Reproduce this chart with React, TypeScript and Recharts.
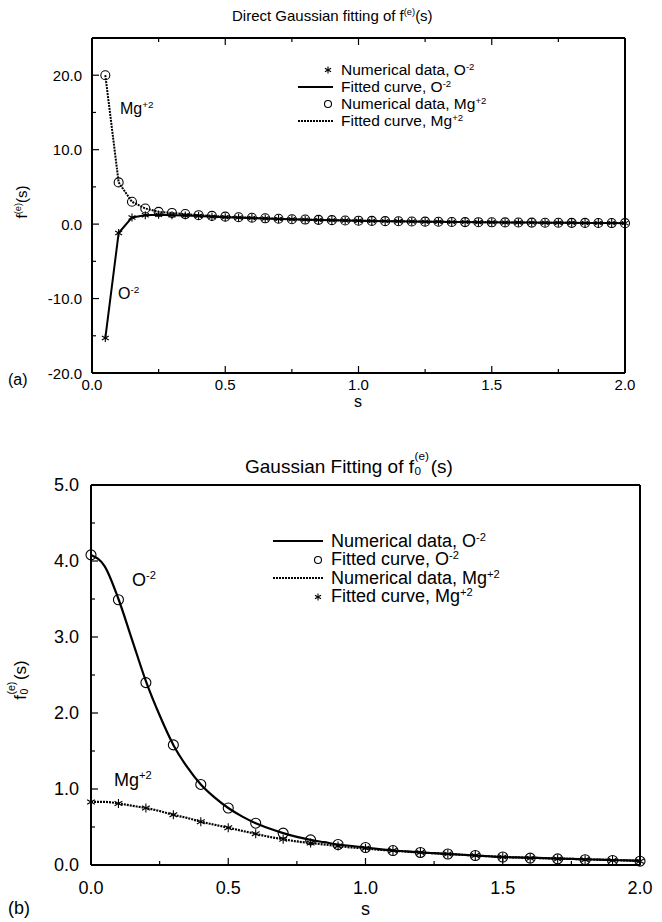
import React from 'react';
import { LineChart, Line, XAxis, YAxis, Legend } from 'recharts';

const FONT = '"Liberation Sans", Arial, Helvetica, sans-serif';

// (a) direct fit, s = 0.05 .. 2.0
const sTop = [
  0.05, 0.1, 0.15, 0.2, 0.25, 0.3, 0.35, 0.4, 0.45, 0.5,
  0.55, 0.6, 0.65, 0.7, 0.75, 0.8, 0.85, 0.9, 0.95, 1.0,
  1.05, 1.1, 1.15, 1.2, 1.25, 1.3, 1.35, 1.4, 1.45, 1.5,
  1.55, 1.6, 1.65, 1.7, 1.75, 1.8, 1.85, 1.9, 1.95, 2.0,
];
const o2Top = [
  -15.3, -1.2, 0.9, 1.2, 1.25, 1.2, 1.15, 1.08, 1.0, 0.93,
  0.87, 0.81, 0.75, 0.7, 0.65, 0.6, 0.56, 0.52, 0.48, 0.45,
  0.42, 0.4, 0.38, 0.35, 0.33, 0.31, 0.29, 0.27, 0.26, 0.24,
  0.23, 0.21, 0.2, 0.19, 0.18, 0.17, 0.16, 0.15, 0.14, 0.13,
];
const mgTop = [
  20.0, 5.6, 3.0, 2.1, 1.65, 1.5, 1.35, 1.2, 1.1, 1.0,
  0.92, 0.85, 0.78, 0.72, 0.66, 0.61, 0.57, 0.53, 0.49, 0.46,
  0.43, 0.4, 0.38, 0.35, 0.33, 0.31, 0.29, 0.27, 0.26, 0.24,
  0.23, 0.21, 0.2, 0.19, 0.18, 0.17, 0.16, 0.15, 0.14, 0.13,
];

// (b) f0 fit: numerical curves on a 0.05 grid, fitted points every 0.1
const sLine = [
  0, 0.05, 0.1, 0.15, 0.2, 0.25, 0.3, 0.35, 0.4, 0.45, 0.5,
  0.55, 0.6, 0.65, 0.7, 0.75, 0.8, 0.85, 0.9, 0.95, 1.0,
  1.05, 1.1, 1.15, 1.2, 1.25, 1.3, 1.35, 1.4, 1.45, 1.5,
  1.55, 1.6, 1.65, 1.7, 1.75, 1.8, 1.85, 1.9, 1.95, 2.0,
];
const o2Line = [
  4.08, 3.93, 3.5, 2.96, 2.42, 1.97, 1.58, 1.29, 1.06, 0.89, 0.75,
  0.64, 0.55, 0.48, 0.42, 0.37, 0.33, 0.3, 0.27, 0.25, 0.23,
  0.21, 0.19, 0.18, 0.165, 0.155, 0.145, 0.135, 0.125, 0.115, 0.105,
  0.1, 0.095, 0.09, 0.085, 0.08, 0.075, 0.07, 0.065, 0.06, 0.055,
];
const mgLine = [
  0.83, 0.83, 0.81, 0.78, 0.75, 0.71, 0.66, 0.62, 0.57, 0.53, 0.49,
  0.45, 0.41, 0.37, 0.34, 0.31, 0.29, 0.27, 0.25, 0.23, 0.22,
  0.2, 0.19, 0.175, 0.165, 0.155, 0.145, 0.135, 0.125, 0.115, 0.105,
  0.1, 0.095, 0.09, 0.085, 0.08, 0.075, 0.07, 0.065, 0.06, 0.055,
];
const sFit = [0, 0.1, 0.2, 0.3, 0.4, 0.5, 0.6, 0.7, 0.8, 0.9, 1.0, 1.1, 1.2, 1.3, 1.4, 1.5, 1.6, 1.7, 1.8, 1.9, 2.0];
const o2Fit = [4.08, 3.49, 2.4, 1.58, 1.06, 0.75, 0.55, 0.42, 0.33, 0.27, 0.23, 0.19, 0.165, 0.145, 0.125, 0.105, 0.09, 0.08, 0.07, 0.06, 0.05];
const mgFit = [0.83, 0.81, 0.75, 0.66, 0.57, 0.49, 0.41, 0.34, 0.29, 0.25, 0.22, 0.19, 0.165, 0.145, 0.125, 0.105, 0.09, 0.08, 0.07, 0.06, 0.05];

const xTicks = [0, 0.25, 0.5, 0.75, 1, 1.25, 1.5, 1.75, 2];
const yTicksTop = [-20, -15, -10, -5, 0, 5, 10, 15, 20];
const yTicksBot = [0, 0.5, 1, 1.5, 2, 2.5, 3, 3.5, 4, 4.5, 5];

const topLegend = [
  { sym: 'star', text: 'Numerical data, O', sup: '-2' },
  { sym: 'solid', text: 'Fitted curve, O', sup: '-2' },
  { sym: 'circle', text: 'Numerical data, Mg', sup: '+2' },
  { sym: 'dotted', text: 'Fitted curve, Mg', sup: '+2' },
];
const botLegend = [
  { sym: 'solid', text: 'Numerical data, O', sup: '-2' },
  { sym: 'circle', text: 'Fitted curve, O', sup: '-2' },
  { sym: 'dotted', text: 'Numerical data, Mg', sup: '+2' },
  { sym: 'star', text: 'Fitted curve, Mg', sup: '+2' },
];

const topData = sTop.map((s, i) => ({ s, o2: o2Top[i], mg: mgTop[i] }));
const lineData = sLine.map((s, i) => ({ s, o2: o2Line[i], mg: mgLine[i] }));
const fitData = sFit.map((s, i) => ({ s, o2: o2Fit[i], mg: mgFit[i] }));

const isMul = (v: number, step: number) => Math.abs(v / step - Math.round(v / step)) < 1e-6;

function Star({ cx, cy, r = 4 }: { cx: number; cy: number; r?: number }) {
  const a = r * 0.866;
  const b = r * 0.5;
  return (
    <g stroke="#000" strokeWidth={1.1}>
      <line x1={cx} y1={cy - r} x2={cx} y2={cy + r} />
      <line x1={cx - a} y1={cy - b} x2={cx + a} y2={cy + b} />
      <line x1={cx - a} y1={cy + b} x2={cx + a} y2={cy - b} />
    </g>
  );
}

const starDot = (r: number) => (p: any) =>
  p.cx == null ? <g key={p.index} /> : <Star key={p.index} cx={p.cx} cy={p.cy} r={r} />;
const circleDot = (r: number) => (p: any) =>
  p.cx == null ? <g key={p.index} /> : (
    <circle key={p.index} cx={p.cx} cy={p.cy} r={r} fill="none" stroke="#000" strokeWidth={1.1} />
  );

function bottomTick(fs: number, dy: number) {
  return (p: any) => {
    const v = p.payload.value;
    const major = isMul(v, 0.5);
    return (
      <g>
        <line x1={p.x} x2={p.x} y1={p.y} y2={p.y - (major ? 7 : 4)} stroke="#000" strokeWidth={1.2} />
        {major && (
          <text x={p.x} y={p.y + dy} textAnchor="middle" dominantBaseline="central" fontSize={fs} fontFamily={FONT} fill="#000">
            {v.toFixed(1)}
          </text>
        )}
      </g>
    );
  };
}
const topTick = (p: any) => {
  const major = isMul(p.payload.value, 0.5);
  return <line x1={p.x} x2={p.x} y1={p.y} y2={p.y + (major ? 7 : 4)} stroke="#000" strokeWidth={1.2} />;
};
function leftTick(fs: number, step: number, dx: number) {
  return (p: any) => {
    const v = p.payload.value;
    const major = isMul(v, step);
    return (
      <g>
        <line x1={p.x} x2={p.x + (major ? 7 : 4)} y1={p.y} y2={p.y} stroke="#000" strokeWidth={1.2} />
        {major && (
          <text x={p.x - dx} y={p.y} textAnchor="end" dominantBaseline="central" fontSize={fs} fontFamily={FONT} fill="#000">
            {v.toFixed(1)}
          </text>
        )}
      </g>
    );
  };
}
function rightTick(step: number) {
  return (p: any) => {
    const major = isMul(p.payload.value, step);
    return <line x1={p.x} x2={p.x - (major ? 7 : 4)} y1={p.y} y2={p.y} stroke="#000" strokeWidth={1.2} />;
  };
}

function LegendSymbol({ sym, w }: { sym: string; w: number }) {
  const h = 14;
  const end = w - 2;
  return (
    <svg width={w} height={h} style={{ flex: 'none' }}>
      {sym === 'solid' && <line x1={0} x2={w} y1={h / 2} y2={h / 2} stroke="#000" strokeWidth={2} />}
      {sym === 'dotted' && <line x1={0} x2={w} y1={h / 2} y2={h / 2} stroke="#000" strokeWidth={2} strokeDasharray="2 1" />}
      {sym === 'circle' && <circle cx={end - 3} cy={h / 2} r={3.5} fill="none" stroke="#000" strokeWidth={1.1} />}
      {sym === 'star' && <Star cx={end - 3} cy={h / 2} r={3.5} />}
    </svg>
  );
}

function makeLegend(entries: typeof topLegend, fs: number, rowH: number, symW: number) {
  return () => (
    <div style={{ fontFamily: FONT, fontSize: fs, color: '#000' }}>
      {entries.map((e) => (
        <div key={e.text + e.sup} style={{ display: 'flex', alignItems: 'center', height: rowH, whiteSpace: 'nowrap' }}>
          <LegendSymbol sym={e.sym} w={symW} />
          <span style={{ marginLeft: 8 }}>
            {e.text}
            <sup style={{ fontSize: '0.62em', verticalAlign: '0.55em' }}>{e.sup}</sup>
          </span>
        </div>
      ))}
    </div>
  );
}

const abs = (left: number, top: number, fs: number, extra: React.CSSProperties = {}): React.CSSProperties => ({
  position: 'absolute',
  left,
  top,
  fontSize: fs,
  fontFamily: FONT,
  color: '#000',
  whiteSpace: 'nowrap',
  lineHeight: 1,
  ...extra,
});
const supStyle: React.CSSProperties = { fontSize: '0.62em', verticalAlign: '0.6em' };

// subscript 0 and superscript (e) stacked after the f
function SubSup({ sub, sup }: { sub: string; sup: string }) {
  return (
    <span style={{ display: 'inline-block', position: 'relative', width: '0.85em', height: '1em', marginLeft: '0.03em' }}>
      <span style={{ position: 'absolute', left: 0, top: '-0.3em', fontSize: '0.62em', lineHeight: 1 }}>{sup}</span>
      <span style={{ position: 'absolute', left: 0, top: '0.92em', fontSize: '0.62em', lineHeight: 1 }}>{sub}</span>
    </span>
  );
}

export default function App() {
  return (
    <div style={{ position: 'absolute', left: 0, top: 0, width: 662, height: 922, background: '#fff', overflow: 'hidden' }}>
      {/* (a) */}
      <div style={abs(232, 8, 15)}>
        Direct Gaussian fitting of f<sup style={supStyle}>(e)</sup>(s)
      </div>
      <div style={{ position: 'absolute', left: 0, top: 0 }}>
        <LineChart width={662} height={410} data={topData} margin={{ top: 0, right: 0, bottom: 0, left: 0 }}>
          <XAxis xAxisId="b" dataKey="s" type="number" domain={[0, 2]} ticks={xTicks} interval={0} height={37}
            tickSize={0} tickMargin={0} tickLine={false} axisLine={{ stroke: '#000', strokeWidth: 2 }} tick={bottomTick(15, 11)} />
          <XAxis xAxisId="t" orientation="top" dataKey="s" type="number" domain={[0, 2]} ticks={xTicks} interval={0} height={38}
            tickSize={0} tickMargin={0} tickLine={false} axisLine={{ stroke: '#000', strokeWidth: 2 }} tick={topTick} />
          <YAxis yAxisId="l" type="number" domain={[-20, 25]} ticks={yTicksTop} interval={0} width={92} allowDataOverflow
            tickSize={0} tickMargin={0} tickLine={false} axisLine={{ stroke: '#000', strokeWidth: 2 }} tick={leftTick(15, 10, 10)} />
          <YAxis yAxisId="r" orientation="right" type="number" domain={[-20, 25]} ticks={yTicksTop} interval={0} width={37}
            tickSize={0} tickMargin={0} tickLine={false} axisLine={{ stroke: '#000', strokeWidth: 2 }} tick={rightTick(10)} />
          <Legend layout="vertical" align="center" verticalAlign="middle"
            wrapperStyle={{ left: 298, top: 62, width: 300 }} content={makeLegend(topLegend, 15.5, 16.8, 35)} />
          <Line xAxisId="b" yAxisId="l" dataKey="o2" type="linear" stroke="#000" strokeWidth={2} dot={false} isAnimationActive={false} />
          <Line xAxisId="b" yAxisId="l" dataKey="mg" type="linear" stroke="#000" strokeWidth={2} strokeDasharray="2 1" dot={false} isAnimationActive={false} />
          <Line xAxisId="b" yAxisId="l" dataKey="o2" stroke="none" dot={starDot(4)} isAnimationActive={false} />
          <Line xAxisId="b" yAxisId="l" dataKey="mg" stroke="none" dot={circleDot(4.5)} isAnimationActive={false} />
        </LineChart>
      </div>
      <div style={abs(120, 100, 16)}>Mg<sup style={supStyle}>+2</sup></div>
      <div style={abs(118, 285, 16)}>O<sup style={supStyle}>-2</sup></div>
      <div style={abs(8, 372, 16)}>(a)</div>
      <div style={abs(0, 394, 16, { width: 716, textAlign: 'center' })}>s</div>
      <div style={abs(21, 202, 15, { transform: 'translate(-50%, -50%) rotate(-90deg)' })}>
        f<sup style={supStyle}>(e)</sup>(s)
      </div>

      {/* (b) */}
      <div style={abs(245, 454, 19)}>
        Gaussian Fitting of f<SubSup sub="0" sup="(e)" />(s)
      </div>
      <div style={{ position: 'absolute', left: 0, top: 440 }}>
        <LineChart width={662} height={482} margin={{ top: 0, right: 0, bottom: 0, left: 0 }}>
          <XAxis xAxisId="b" dataKey="s" type="number" domain={[0, 2]} ticks={xTicks} interval={0} height={57}
            tickSize={0} tickMargin={0} tickLine={false} axisLine={{ stroke: '#000', strokeWidth: 2 }} tick={bottomTick(18, 23)} />
          <XAxis xAxisId="t" orientation="top" dataKey="s" type="number" domain={[0, 2]} ticks={xTicks} interval={0} height={45}
            tickSize={0} tickMargin={0} tickLine={false} axisLine={{ stroke: '#000', strokeWidth: 2 }} tick={topTick} />
          <YAxis yAxisId="l" type="number" domain={[0, 5]} ticks={yTicksBot} interval={0} width={91}
            tickSize={0} tickMargin={0} tickLine={false} axisLine={{ stroke: '#000', strokeWidth: 2 }} tick={leftTick(18, 1, 12)} />
          <YAxis yAxisId="r" orientation="right" type="number" domain={[0, 5]} ticks={yTicksBot} interval={0} width={22}
            tickSize={0} tickMargin={0} tickLine={false} axisLine={{ stroke: '#000', strokeWidth: 2 }} tick={rightTick(1)} />
          <Legend layout="vertical" align="center" verticalAlign="middle"
            wrapperStyle={{ left: 273, top: 92, width: 360 }} content={makeLegend(botLegend, 18, 18.5, 50)} />
          <Line xAxisId="b" yAxisId="l" data={lineData} dataKey="o2" type="monotone" stroke="#000" strokeWidth={2.2} dot={false} isAnimationActive={false} />
          <Line xAxisId="b" yAxisId="l" data={lineData} dataKey="mg" type="monotone" stroke="#000" strokeWidth={2.2} strokeDasharray="2 1" dot={false} isAnimationActive={false} />
          <Line xAxisId="b" yAxisId="l" data={fitData} dataKey="o2" stroke="none" dot={circleDot(5)} isAnimationActive={false} />
          <Line xAxisId="b" yAxisId="l" data={fitData} dataKey="mg" stroke="none" dot={starDot(4.5)} isAnimationActive={false} />
        </LineChart>
      </div>
      <div style={abs(132, 570, 18)}>O<sup style={supStyle}>-2</sup></div>
      <div style={abs(114, 770, 18)}>Mg<sup style={supStyle}>+2</sup></div>
      <div style={abs(8, 899, 18)}>(b)</div>
      <div style={abs(0, 900, 18, { width: 731, textAlign: 'center' })}>s</div>
      <div style={abs(19, 680, 17, { transform: 'translate(-50%, -50%) rotate(-90deg)' })}>
        f<SubSup sub="0" sup="(e)" />(s)
      </div>
    </div>
  );
}
